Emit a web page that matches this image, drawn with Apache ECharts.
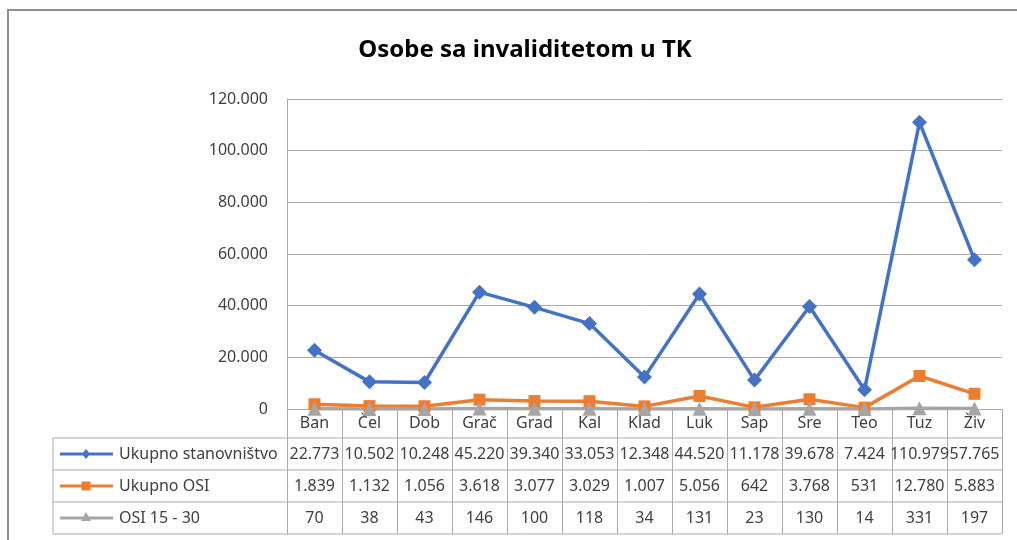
<!DOCTYPE html>
<html>
<head>
<meta charset="utf-8">
<title>Osobe sa invaliditetom u TK</title>
<script src="https://cdn.jsdelivr.net/npm/echarts@6/dist/echarts.min.js"></script>
<style>
  html, body { margin: 0; padding: 0; background: #fff; }
  #main { width: 1017px; height: 540px; }
</style>
</head>
<body>
<div id="main"></div>
<script>
// podaci
var categories = ['Ban', 'Čel', 'Dob', 'Grač', 'Grad', 'Kal', 'Klad', 'Luk', 'Sap', 'Sre', 'Teo', 'Tuz', 'Živ'];
var ukupnoStanovnistvo = [22773, 10502, 10248, 45220, 39340, 33053, 12348, 44520, 11178, 39678, 7424, 110979, 57765];
var ukupnoOsi = [1839, 1132, 1056, 3618, 3077, 3029, 1007, 5056, 642, 3768, 531, 12780, 5883];
var osi1530 = [70, 38, 43, 146, 100, 118, 34, 131, 23, 130, 14, 331, 197];
var seriesNames = ['Ukupno stanovništvo', 'Ukupno OSI', 'OSI 15 - 30'];
var yMin = 0, yMax = 120000, yStep = 20000;

var colors = ['#4472C4', '#ED7D31', '#A5A5A5'];
var lineGrey = '#ababab';
var textColor = '#404040';
var font = 'Noto Sans';

// tacka kao separator hiljada
function fmt(v) {
    return String(v).replace(/\B(?=(\d{3})+(?!\d))/g, '.');
}

var rowData = [ukupnoStanovnistvo, ukupnoOsi, osi1530];
var rowCenters = [45, 77, 109]; // pomak od osnovne linije do sredine reda

var chart = echarts.init(document.getElementById('main'));

var xAxes = [{
    type: 'category',
    data: categories,
    position: 'bottom',
    axisLine: { show: true, lineStyle: { color: lineGrey, width: 1 } },
    axisTick: { show: true, length: 125, lineStyle: { color: lineGrey, width: 1 } },
    axisLabel: { color: textColor, fontSize: 16, fontFamily: font, margin: 14, verticalAlign: 'middle' },
    splitLine: { show: false }
}];
rowData.forEach(function (arr, i) {
    xAxes.push({
        type: 'category',
        data: arr.map(fmt),
        position: 'bottom',
        offset: rowCenters[i],
        axisLine: { show: false },
        axisTick: { show: false },
        axisLabel: { color: textColor, fontSize: 16, fontFamily: font, margin: 0, verticalAlign: 'middle', interval: 0 },
        splitLine: { show: false }
    });
});

var symbols = ['diamond', 'rect', 'triangle'];
var symbolSizes = [15, 12, 14];

var option = {
    animation: false,
    title: {
        text: 'Osobe sa invaliditetom u TK',
        left: 520,
        textAlign: 'center',
        top: 33,
        textStyle: { fontFamily: font, fontSize: 24, fontWeight: 'bold', color: '#000' }
    },
    grid: { left: 287, right: 15, top: 99, bottom: 131, containLabel: false },
    xAxis: xAxes,
    yAxis: {
        type: 'value',
        min: yMin,
        max: yMax,
        interval: yStep,
        axisLine: { show: true, lineStyle: { color: lineGrey } },
        axisTick: { show: false },
        axisLabel: { color: textColor, fontSize: 16, fontFamily: font, margin: 19, formatter: fmt },
        splitLine: { lineStyle: { color: lineGrey, width: 1 } }
    },
    series: rowData.map(function (arr, i) {
        return {
            name: seriesNames[i],
            type: 'line',
            xAxisIndex: 0,
            data: arr,
            symbol: symbols[i],
            symbolSize: symbolSizes[i],
            showAllSymbol: true,
            lineStyle: { color: colors[i], width: 3.5 },
            itemStyle: { color: colors[i] }
        };
    })
};
chart.setOption(option);

// tabela ispod grafikona
var p0 = chart.convertToPixel({ xAxisIndex: 0 }, categories[0]);
var p1 = chart.convertToPixel({ xAxisIndex: 0 }, categories[1]);
var band = p1 - p0;
var rightEdge = chart.convertToPixel({ xAxisIndex: 0 }, categories[categories.length - 1]) + band / 2;
var base = chart.convertToPixel({ yAxisIndex: 0 }, 0);
var tableLeft = 53;
var rowLines = [29, 61, 93, 125];

var graphics = [{
    type: 'rect',
    shape: { x: 8, y: 10, width: 1100, height: 600 },
    style: { fill: 'none', stroke: '#8f8f8f', lineWidth: 2 },
    silent: true
}];
rowLines.forEach(function (dy) {
    graphics.push({
        type: 'line',
        shape: { x1: tableLeft, y1: base + dy, x2: rightEdge, y2: base + dy },
        style: { stroke: lineGrey, lineWidth: 1 },
        silent: true
    });
});
graphics.push({
    type: 'line',
    shape: { x1: tableLeft, y1: base + rowLines[0], x2: tableLeft, y2: base + rowLines[3] },
    style: { stroke: lineGrey, lineWidth: 1 },
    silent: true
});

rowCenters.forEach(function (dy, i) {
    var y = base + dy;
    var mx = 86;
    graphics.push({
        type: 'line',
        shape: { x1: 60, y1: y, x2: 113, y2: y },
        style: { stroke: colors[i], lineWidth: 3 },
        silent: true
    });
    var marker;
    if (i === 0) {
        marker = { type: 'polygon', shape: { points: [[mx, y - 5], [mx + 4, y], [mx, y + 5], [mx - 4, y]] } };
    } else if (i === 1) {
        marker = { type: 'rect', shape: { x: mx - 4.5, y: y - 4.5, width: 9, height: 9 } };
    } else {
        marker = { type: 'polygon', shape: { points: [[mx, y - 6], [mx + 5, y + 3], [mx - 5, y + 3]] } };
    }
    marker.style = { fill: colors[i] };
    marker.silent = true;
    graphics.push(marker);
    graphics.push({
        type: 'text',
        x: 119,
        y: y,
        style: { text: seriesNames[i], fill: textColor, font: '16px "' + font + '"', textVerticalAlign: 'middle' },
        silent: true
    });
});

chart.setOption({ graphic: graphics });
</script>
</body>
</html>
